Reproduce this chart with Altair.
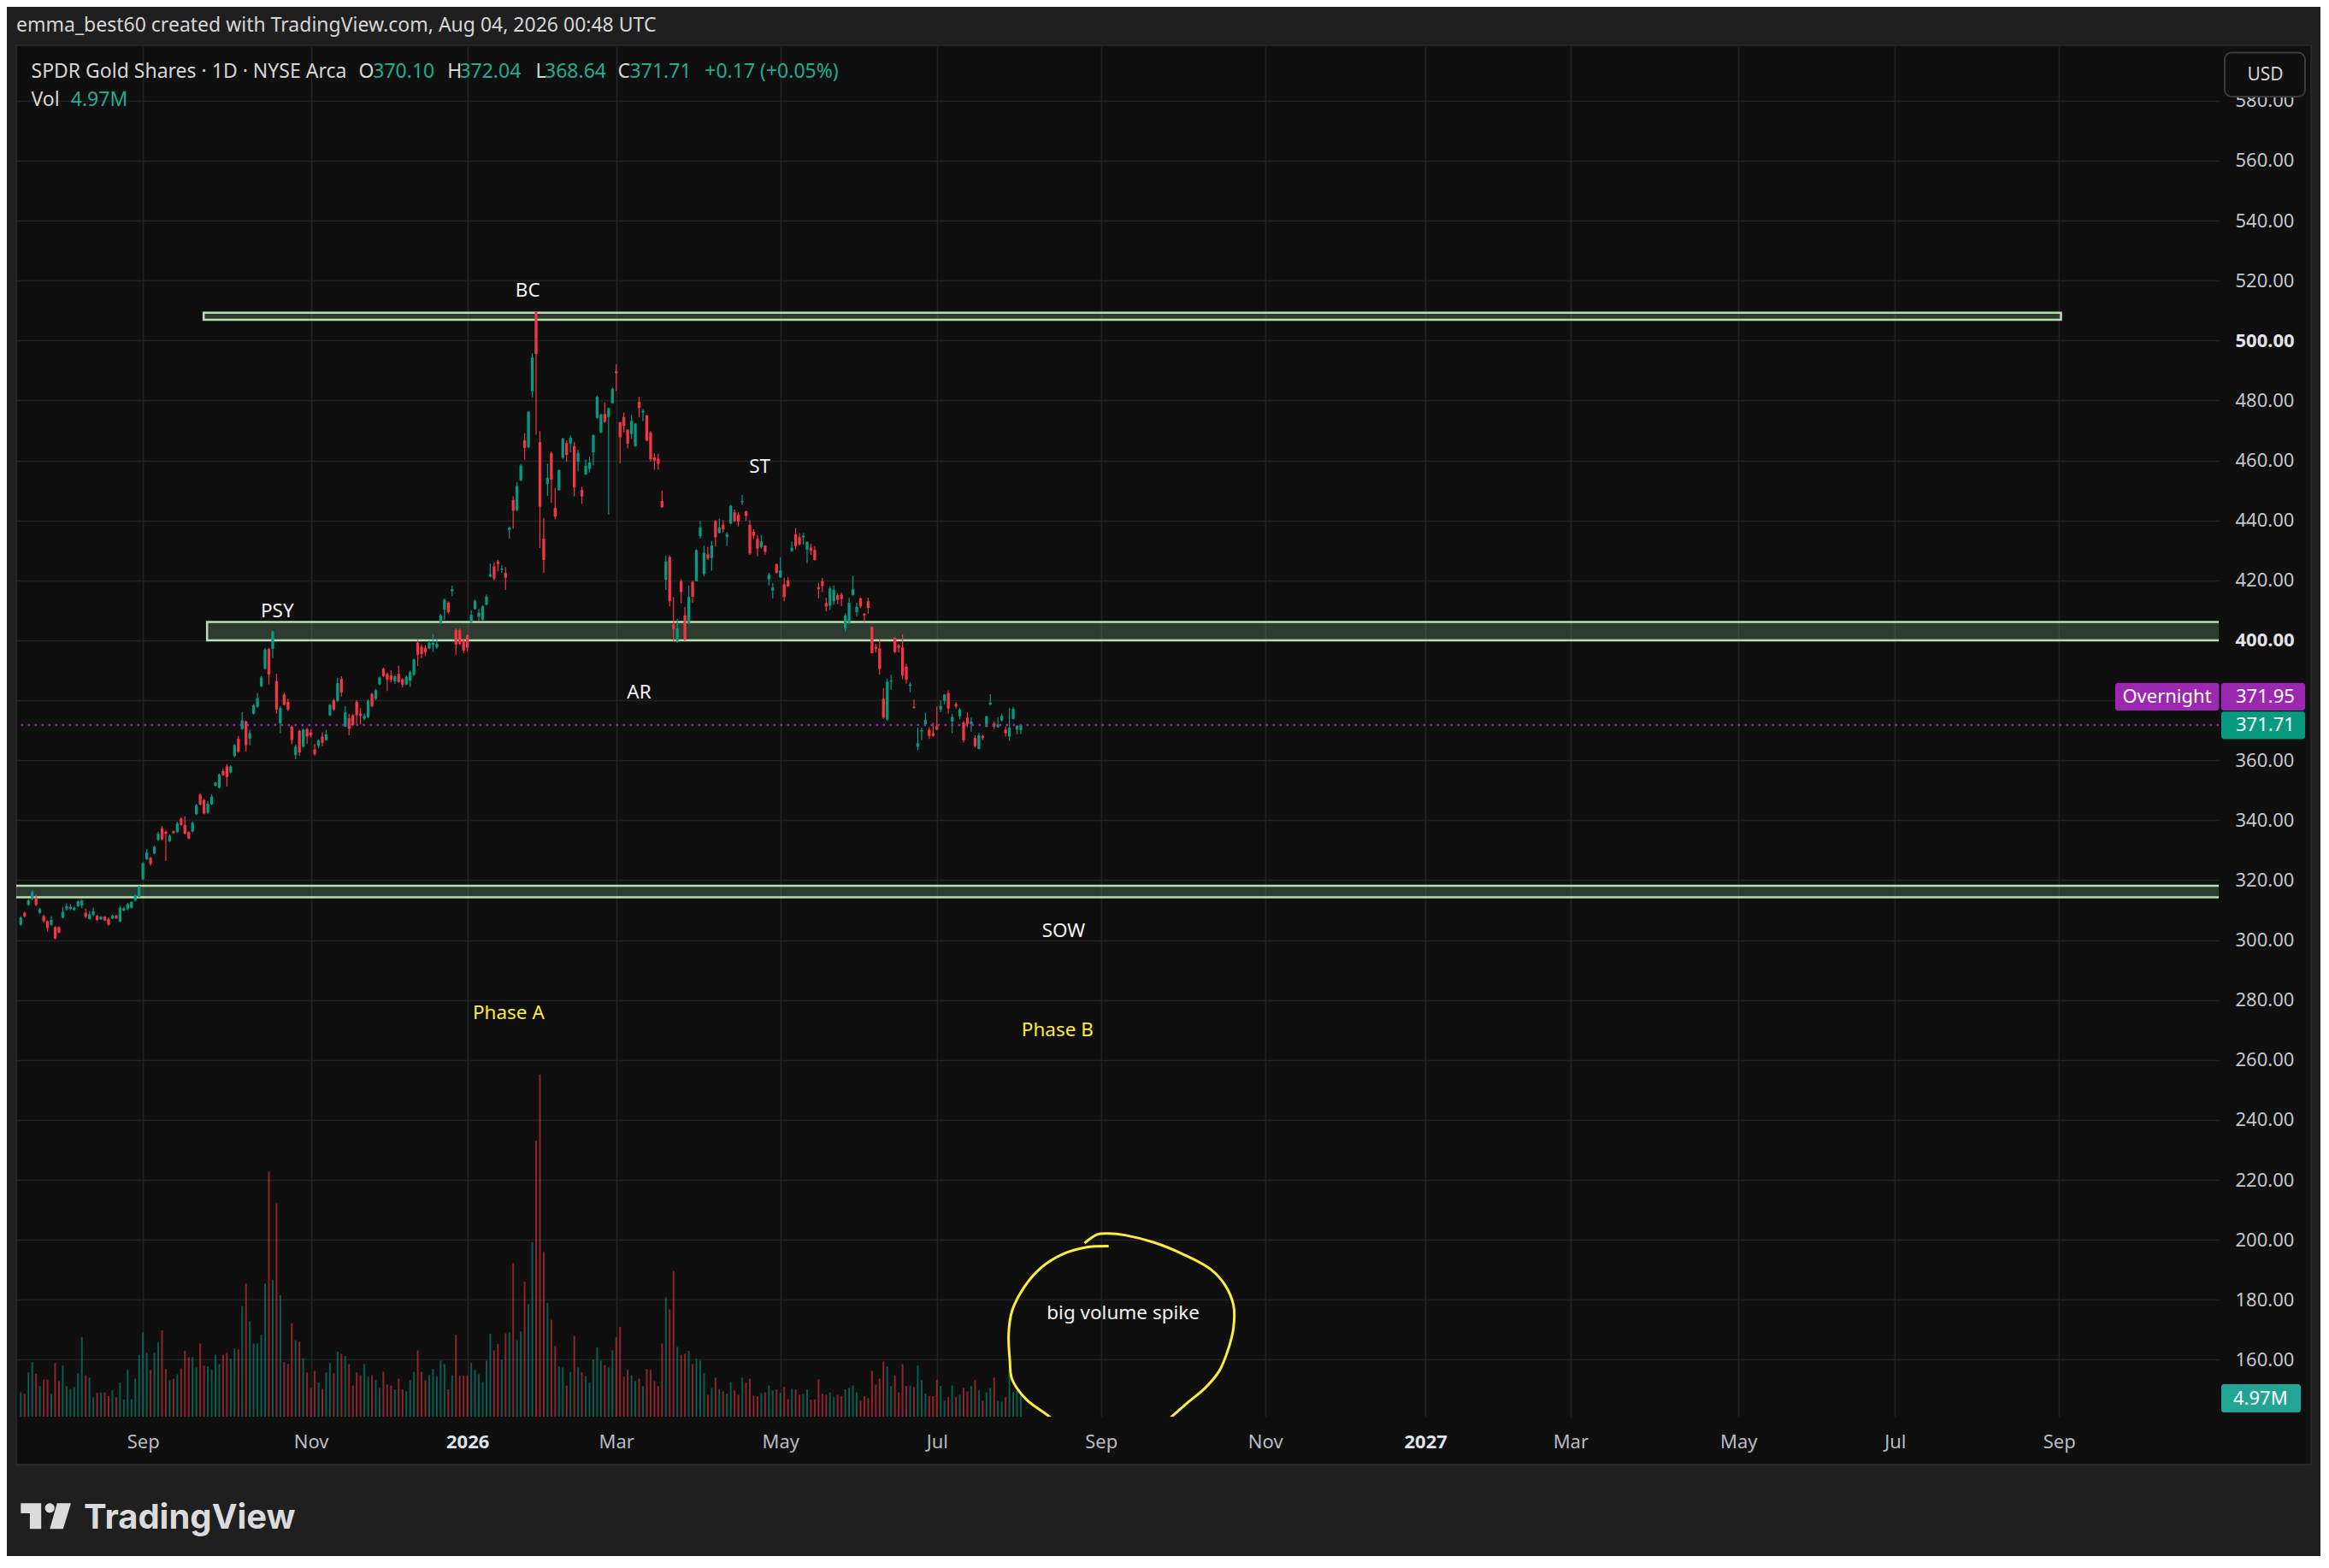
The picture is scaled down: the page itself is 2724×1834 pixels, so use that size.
import altair as alt
import pandas as pd

# ------------------------------------------------------------------ data
START = "2025-07-17"
END_CAL = "2027-12-31"
HOLIDAYS = ["2025-09-01", "2025-11-27", "2025-12-25", "2026-01-01", "2026-01-19",
            "2026-02-16", "2026-04-03", "2026-05-25", "2026-06-19", "2026-07-03",
            "2026-09-07", "2026-11-26", "2026-12-25", "2027-01-01", "2027-01-18",
            "2027-02-15", "2027-03-26", "2027-05-31", "2027-06-18", "2027-07-05",
            "2027-09-06"]

OPEN = [
    305.1, 309.1, 311.8, 313.7, 314.1, 309.1, 308.0, 306.3, 305.1, 304.3,
    304.3, 307.5, 310.3, 310.4, 310.0, 311.3, 311.5, 309.1, 307.0, 308.4,
    308.1, 306.9, 307.8, 307.0, 307.2, 308.2, 306.2, 309.8, 310.3, 310.8,
    313.2, 314.4, 320.3, 327.0, 327.4, 328.9, 333.4, 337.2, 336.2, 333.0,
    336.3, 336.0, 340.5, 338.4, 336.0, 336.2, 342.0, 348.5, 346.7, 342.5,
    345.3, 351.5, 350.8, 356.4, 357.9, 355.9, 361.4, 367.1, 370.4, 372.9,
    367.2, 375.5, 377.8, 384.7, 390.5, 397.1, 397.1, 386.4, 372.3, 381.9,
    379.5, 371.2, 361.7, 369.8, 364.5, 370.4, 369.3, 363.6, 364.8, 367.9,
    366.7, 375.0, 380.0, 379.8, 387.2, 371.2, 374.0, 375.0, 379.5, 375.6,
    373.9, 374.4, 382.1, 380.5, 385.3, 390.5, 388.8, 388.3, 386.3, 388.8,
    387.0, 385.3, 386.5, 388.5, 399.2, 397.8, 397.5, 397.3, 398.5, 397.6,
    405.9, 410.2, 412.6, 416.4, 403.5, 403.5, 400.0, 401.6, 406.1, 410.5,
    407.8, 406.9, 411.9, 421.3, 424.6, 426.3, 423.5, 422.5, 436.8, 446.8,
    443.4, 453.4, 466.7, 464.4, 483.1, 509.5, 466.1, 433.9, 452.2, 462.4,
    444.2, 450.1, 460.9, 465.8, 465.6, 464.8, 459.6, 450.1, 455.3, 457.2,
    462.7, 474.2, 469.4, 475.5, 474.5, 479.1, 489.8, 472.7, 474.5, 470.3,
    468.8, 464.8, 479.6, 476.0, 475.0, 469.3, 461.0, 460.6, 446.5, 420.2,
    427.8, 405.2, 399.9, 419.7, 408.3, 405.6, 419.5, 419.7, 434.7, 422.1,
    428.7, 427.5, 439.8, 435.8, 438.5, 434.4, 439.0, 442.7, 441.9, 446.1,
    443.0, 438.5, 436.2, 433.9, 431.1, 431.6, 420.3, 416.6, 425.4, 421.0,
    418.7, 420.0, 429.8, 435.4, 434.4, 434.4, 430.3, 430.9, 430.1, 417.8,
    419.7, 412.4, 411.6, 413.0, 415.1, 415.2, 404.0, 405.9, 415.1, 409.4,
    414.0, 408.8, 413.0, 404.4, 397.8, 397.3, 380.5, 373.6, 386.2, 400.9,
    398.3, 397.6, 391.2, 384.8, 377.8, 364.5, 369.6, 372.0, 370.2, 369.0,
    371.4, 376.9, 379.8, 382.4, 372.9, 378.8, 374.7, 372.6, 374.2, 372.0,
    367.4, 363.8, 368.1, 371.2, 378.6, 372.3, 371.0, 373.3, 370.2, 367.9,
    373.8, 370.2, 370.10]

HIGH = [
    308.0, 309.5, 313.6, 316.6, 315.1, 310.8, 308.5, 306.6, 308.0, 304.6,
    304.6, 311.0, 312.3, 312.0, 311.2, 313.2, 313.6, 310.5, 309.6, 310.8,
    308.4, 308.0, 308.0, 307.5, 308.5, 308.4, 311.4, 311.1, 312.4, 313.0,
    315.2, 318.2, 326.0, 330.4, 327.8, 331.5, 336.1, 338.0, 336.6, 335.2,
    336.6, 339.5, 341.0, 341.3, 336.3, 339.6, 345.4, 349.0, 347.0, 346.4,
    348.6, 352.8, 355.6, 357.3, 358.6, 358.3, 365.4, 368.0, 376.0, 373.3,
    370.2, 378.7, 382.4, 388.0, 397.4, 397.5, 403.2, 388.8, 378.0, 382.5,
    380.5, 371.6, 365.2, 370.2, 370.6, 370.8, 370.4, 365.5, 367.0, 369.3,
    370.2, 378.8, 380.4, 387.4, 388.0, 378.0, 375.5, 375.4, 380.0, 377.4,
    375.5, 380.3, 382.5, 383.8, 388.0, 390.9, 389.2, 390.0, 388.4, 391.5,
    387.4, 388.3, 389.9, 394.0, 400.2, 398.6, 398.3, 400.0, 402.0, 400.5,
    408.8, 414.0, 413.0, 418.2, 404.0, 404.0, 400.3, 402.0, 410.0, 413.6,
    410.4, 411.7, 415.2, 425.6, 425.9, 426.8, 424.9, 424.4, 438.0, 448.0,
    452.8, 458.8, 469.1, 476.5, 495.7, 509.8, 469.8, 440.8, 458.9, 463.0,
    450.8, 457.0, 467.6, 466.7, 468.3, 466.1, 463.6, 451.2, 460.4, 461.2,
    468.7, 481.6, 475.6, 479.3, 477.7, 484.3, 492.1, 472.9, 476.0, 470.4,
    475.1, 472.5, 481.2, 477.2, 475.2, 469.8, 462.4, 462.2, 449.8, 428.2,
    428.4, 414.4, 407.1, 420.4, 411.1, 418.3, 419.9, 430.4, 439.8, 431.6,
    431.1, 433.2, 440.1, 440.6, 440.1, 436.0, 445.2, 443.6, 442.7, 448.5,
    443.3, 440.1, 437.0, 435.1, 435.1, 431.7, 422.5, 419.1, 425.6, 427.7,
    420.9, 421.1, 433.0, 437.5, 435.8, 435.8, 433.0, 432.2, 431.4, 419.2,
    420.8, 414.2, 418.0, 418.3, 415.7, 415.9, 409.0, 414.2, 421.6, 412.5,
    414.2, 409.2, 414.2, 404.7, 398.8, 400.2, 384.0, 387.2, 388.5, 401.0,
    398.8, 402.0, 392.1, 386.1, 380.2, 370.9, 370.9, 375.8, 371.0, 372.6,
    377.9, 380.0, 382.1, 383.3, 375.4, 379.4, 377.4, 373.1, 376.0, 374.2,
    368.3, 369.1, 368.5, 374.8, 382.0, 372.9, 374.2, 375.5, 371.2, 377.4,
    377.7, 371.6, 372.04]

LOW = [
    304.8, 307.5, 311.4, 313.3, 311.3, 308.8, 305.8, 302.8, 304.8, 300.2,
    302.2, 307.2, 309.8, 310.0, 309.8, 311.0, 310.6, 307.3, 306.8, 308.0,
    306.4, 306.7, 306.3, 304.8, 307.0, 307.0, 306.0, 309.6, 310.0, 310.5,
    312.9, 314.1, 320.0, 326.7, 324.8, 328.6, 333.0, 333.3, 326.3, 332.7,
    335.4, 335.7, 338.0, 335.2, 333.6, 335.9, 341.7, 344.9, 341.9, 342.0,
    345.0, 351.2, 350.5, 354.7, 351.2, 355.6, 360.9, 362.5, 370.1, 362.8,
    365.0, 375.2, 377.5, 384.4, 390.2, 385.3, 394.0, 375.5, 369.0, 378.2,
    376.4, 365.3, 360.3, 361.5, 364.2, 365.5, 367.6, 361.4, 364.0, 364.7,
    366.4, 374.6, 376.5, 379.4, 381.2, 371.0, 368.3, 371.3, 372.2, 371.9,
    373.3, 374.0, 377.6, 380.0, 385.0, 387.7, 383.1, 385.9, 385.4, 385.8,
    384.2, 385.0, 384.5, 388.1, 391.4, 394.0, 394.7, 397.0, 396.1, 397.2,
    405.4, 406.9, 408.9, 414.7, 395.2, 398.4, 395.6, 396.2, 405.8, 410.2,
    406.6, 406.5, 411.6, 421.0, 420.0, 423.0, 422.5, 416.8, 434.0, 437.2,
    443.0, 453.0, 460.3, 464.0, 481.0, 468.6, 430.8, 422.5, 448.2, 445.8,
    440.3, 449.9, 460.5, 459.6, 462.7, 448.0, 456.3, 445.5, 455.1, 456.0,
    458.4, 473.9, 469.0, 472.5, 442.0, 479.0, 483.1, 459.0, 469.4, 464.1,
    467.2, 464.6, 474.4, 473.1, 466.4, 459.6, 456.9, 456.9, 444.2, 416.8,
    411.3, 399.5, 399.2, 412.4, 399.8, 405.5, 412.5, 419.6, 433.9, 421.3,
    426.8, 423.2, 431.3, 435.6, 436.0, 431.4, 438.7, 439.4, 437.9, 445.2,
    439.8, 428.5, 433.8, 428.0, 430.6, 428.6, 418.3, 414.0, 422.3, 420.8,
    413.0, 417.8, 429.5, 430.3, 431.6, 432.0, 425.7, 428.5, 426.6, 414.0,
    416.1, 409.7, 410.1, 411.8, 412.1, 411.4, 403.0, 405.4, 414.9, 408.0,
    410.8, 406.1, 408.9, 395.6, 395.9, 388.6, 373.8, 373.1, 383.4, 395.8,
    395.9, 387.0, 385.5, 382.6, 377.2, 363.3, 366.7, 371.5, 367.1, 367.8,
    370.0, 376.1, 378.6, 375.5, 369.0, 377.3, 373.6, 365.9, 371.0, 369.5,
    364.1, 363.6, 366.7, 371.0, 378.4, 370.4, 370.9, 372.9, 367.9, 366.4,
    373.6, 368.6, 368.64]

CLOSE = [
    307.5, 307.9, 313.2, 316.0, 311.8, 310.3, 306.3, 304.0, 306.7, 300.5,
    302.5, 309.4, 311.3, 311.1, 310.8, 312.9, 313.2, 307.8, 308.6, 309.6,
    306.7, 307.8, 306.5, 305.1, 308.2, 307.3, 310.8, 310.6, 312.0, 312.7,
    314.9, 317.9, 325.6, 329.2, 325.4, 331.1, 335.4, 333.6, 335.5, 334.8,
    335.7, 338.9, 338.4, 335.5, 333.9, 339.1, 345.0, 345.2, 342.2, 345.5,
    347.9, 352.5, 355.2, 355.0, 354.4, 357.9, 365.0, 362.8, 373.3, 365.0,
    369.0, 378.3, 380.7, 387.6, 396.9, 388.6, 403.0, 376.9, 377.4, 378.5,
    376.9, 366.7, 364.5, 362.6, 370.2, 367.9, 368.3, 362.0, 366.6, 365.8,
    368.6, 378.5, 376.9, 385.7, 382.6, 375.9, 370.5, 371.7, 375.0, 374.8,
    374.8, 379.9, 378.0, 383.3, 387.6, 388.1, 386.9, 386.9, 388.0, 386.1,
    385.2, 387.8, 389.4, 393.6, 395.2, 395.4, 396.0, 399.1, 399.2, 398.8,
    408.3, 413.5, 409.4, 417.0, 398.6, 398.8, 396.6, 397.5, 408.5, 413.2,
    409.2, 411.3, 414.5, 422.0, 420.6, 425.5, 423.9, 420.9, 437.6, 443.2,
    451.5, 458.3, 464.2, 476.2, 494.3, 495.5, 444.6, 426.8, 454.1, 453.6,
    441.3, 456.8, 467.2, 461.8, 467.5, 451.0, 462.5, 448.0, 458.2, 459.3,
    468.4, 481.2, 475.3, 472.9, 477.4, 483.9, 489.1, 467.7, 471.5, 465.6,
    473.2, 472.3, 477.5, 476.5, 466.6, 460.4, 459.9, 458.9, 444.4, 426.3,
    413.0, 403.7, 404.0, 416.1, 400.2, 414.5, 414.5, 430.1, 437.7, 429.2,
    427.3, 431.6, 434.4, 437.7, 437.0, 435.4, 444.9, 439.8, 439.6, 446.5,
    441.5, 429.0, 434.9, 430.6, 433.0, 429.5, 421.8, 417.6, 422.5, 423.3,
    414.4, 418.0, 430.9, 431.4, 432.0, 434.9, 432.8, 429.9, 426.8, 417.1,
    418.1, 411.3, 417.3, 416.8, 413.5, 413.8, 408.3, 412.5, 417.0, 411.1,
    411.3, 408.3, 410.8, 395.7, 397.2, 390.4, 374.2, 386.2, 386.6, 396.1,
    397.5, 388.3, 386.9, 385.3, 377.4, 365.7, 370.0, 373.4, 368.1, 368.1,
    370.2, 378.1, 381.9, 377.2, 374.4, 377.9, 376.9, 366.6, 372.1, 372.9,
    364.7, 368.3, 367.4, 374.6, 379.2, 371.2, 371.9, 374.8, 369.0, 370.9,
    377.1, 371.54, 371.71]

VOLUME_M = [
    5.0, 4.7, 9.1, 11.2, 8.8, 6.3, 7.6, 7.6, 4.7, 11.0,
    7.3, 10.5, 6.3, 5.7, 6.1, 8.9, 16.3, 8.5, 8.0, 4.0,
    4.9, 5.0, 5.0, 4.2, 5.4, 4.0, 7.0, 3.5, 9.6, 3.6,
    7.8, 12.7, 17.3, 13.1, 9.6, 13.1, 15.2, 17.7, 9.8, 7.5,
    7.8, 8.7, 9.9, 13.5, 12.2, 12.2, 10.1, 15.0, 10.5, 10.3,
    9.6, 12.7, 10.8, 12.7, 13.1, 11.9, 14.0, 13.8, 22.7, 27.3,
    19.6, 15.0, 15.0, 16.8, 27.3, 50.3, 28.0, 43.8, 24.9, 11.2,
    10.8, 19.2, 15.7, 15.4, 12.0, 9.1, 5.9, 9.4, 7.0, 5.7,
    9.1, 11.0, 8.9, 13.3, 12.9, 12.4, 10.8, 6.4, 9.1, 8.5,
    10.8, 8.2, 8.5, 7.5, 5.9, 9.2, 6.6, 6.4, 5.6, 7.8,
    5.6, 5.2, 7.5, 9.2, 13.6, 9.2, 7.5, 8.5, 9.8, 8.2,
    11.5, 10.8, 5.6, 8.5, 16.8, 8.4, 8.4, 8.5, 11.0, 9.6,
    8.7, 7.1, 11.5, 17.0, 13.6, 14.9, 11.7, 17.1, 17.3, 31.5,
    15.7, 17.5, 27.7, 23.1, 35.8, 56.6, 70.2, 33.8, 23.3, 19.9,
    14.5, 10.3, 10.1, 6.4, 9.2, 16.6, 10.1, 9.1, 8.4, 7.0,
    11.7, 14.2, 11.5, 10.6, 10.1, 13.6, 16.3, 18.4, 8.2, 9.6,
    8.5, 7.3, 7.8, 6.3, 9.8, 9.6, 7.3, 6.3, 15.0, 24.5,
    22.0, 29.9, 14.3, 12.7, 12.9, 13.5, 10.8, 11.9, 11.5, 8.9,
    4.5, 5.9, 8.0, 5.6, 5.2, 4.7, 7.1, 5.4, 4.5, 8.0,
    7.0, 7.8, 4.3, 4.2, 4.9, 5.0, 6.4, 5.4, 5.6, 4.9,
    6.1, 3.6, 5.7, 5.6, 4.5, 4.7, 5.6, 3.5, 3.5, 7.7,
    4.7, 4.5, 5.0, 4.0, 4.5, 4.2, 5.6, 5.9, 6.4, 5.0,
    3.3, 4.2, 3.8, 9.4, 6.6, 7.8, 11.3, 10.3, 6.3, 8.5,
    5.0, 10.8, 6.3, 6.4, 6.1, 10.5, 7.5, 4.7, 4.2, 4.2,
    7.5, 6.3, 3.3, 4.0, 6.4, 4.0, 4.5, 5.9, 5.2, 6.3,
    7.5, 5.4, 3.3, 5.0, 5.9, 8.0, 3.3, 3.1, 4.0, 9.8,
    5.0, 5.3, 4.97]

OVERNIGHT_PRICE = 371.95
Y_TICKS = list(range(160, 600, 20))

# drawings (bar index / price)
ZONE_J0 = [47.9, 48.8, -5.0]
ZONE_J1 = [534.5, 600.0, 600.0]
ZONE_LO = [506.9, 400.0, 314.3]
ZONE_HI = [509.3, 406.1, 318.1]

ANN_TEXT = ["BC", "ST", "PSY", "AR", "SOW", "Phase A", "Phase B", "big volume spike"]
ANN_J = [132.8, 193.6, 67.2, 162.0, 273.2, 127.8, 271.6, 288.8]
ANN_P = [516.7, 458.0, 409.6, 382.6, 303.0, 275.7, 269.8, 175.5]
ANN_KIND = ["w", "w", "w", "w", "w", "y", "y", "w"]

CIRC_J = [278.7, 282.0, 285.0, 289.5, 296.9, 304.3, 311.8, 315.5, 317.7, 317.7,
          316.2, 314.0, 310.3, 305.8, 301.4, 292.4, 279.0, 269.4, 263.4, 259.7,
          259.1, 258.8, 259.7, 262.7, 267.2, 273.1, 279.0, 285.0]
CIRC_P = [198.9, 201.8, 202.1, 201.5, 199.1, 195.3, 190.1, 184.9, 178.2, 170.6,
          163.0, 156.3, 150.6, 145.8, 140.9, 131.6, 131.0, 141.1, 146.8, 153.5,
          160.1, 168.6, 176.3, 183.9, 190.6, 195.3, 197.5, 197.9]

# ------------------------------------------------------------------ style
FONT = "Noto Sans"
GREEN = "#089981"
RED = "#f23645"
TEAL_TXT = "#22ab94"
LABEL_GREEN = "#22a595"
PURPLE = "#9c27b0"
YELLOW = "#ffeb3b"
LIGHT = "#d6d6d6"
FRAME = "#1f1f1f"
GRID = "#222222"

W, H = 2576, 1603
X_MIN, X_MAX = -0.07, 574.7

cal = pd.bdate_range(START, END_CAL, freq="C", holidays=HOLIDAYS)
n = len(CLOSE)

tick_j, tick_lab = [], []
for i in range(1, len(cal)):
    if i > X_MAX:
        break
    d = cal[i]
    if d.month != cal[i - 1].month and d.month % 2 == 1:
        tick_j.append(i)
        tick_lab.append(str(d.year) if d.month == 1 else d.strftime("%b"))
year_j = [j for j, lab in zip(tick_j, tick_lab) if lab.isdigit()]

df = pd.DataFrame({
    "j": list(range(n)),
    "date": [d.strftime("%Y-%m-%d") for d in cal[:n]],
    "o": OPEN, "h": HIGH, "l": LOW, "c": CLOSE, "v": VOLUME_M,
})
df["dir"] = ["up" if c >= o else "down" for o, c in zip(OPEN, CLOSE)]

xscale = alt.Scale(domain=[X_MIN, X_MAX], nice=False, zero=False)
yscale = alt.Scale(domain=[141.0, 598.2], nice=False, zero=False)
vscale = alt.Scale(domain=[0, 281.2], nice=False, zero=False)
cscale = alt.Scale(domain=["up", "down"], range=[GREEN, RED])

lab_expr = ("[" + ",".join("'%s'" % s for s in tick_lab) + "][indexof(["
            + ",".join(str(j) for j in tick_j) + "], datum.value)]")
year_test = "indexof([" + ",".join(str(j) for j in year_j) + "], datum.value) >= 0"
bold_test = "datum.value == 400 || datum.value == 500"

XAXIS = alt.Axis(values=tick_j, labelExpr=lab_expr, title=None, orient="bottom",
                 grid=True, gridColor=GRID, gridWidth=1.6, ticks=False, domain=False,
                 labelFont=FONT, labelFontSize=22, labelPadding=19,
                 labelColor={"condition": {"test": year_test, "value": "#dfe2e8"}, "value": "#b8bbc2"},
                 labelFontWeight={"condition": {"test": year_test, "value": "bold"}, "value": "normal"},
                 labelOverlap=False, labelFlush=False)
YAXIS = alt.Axis(values=Y_TICKS, format=".2f", title=None, orient="right",
                 grid=True, gridColor=GRID, gridWidth=1.6, ticks=False, domain=False,
                 labelFont=FONT, labelFontSize=22, labelAlign="left", labelPadding=19,
                 labelColor={"condition": {"test": bold_test, "value": "#e2e4ea"}, "value": "#c3c6cc"},
                 labelFontWeight={"condition": {"test": bold_test, "value": "bold"}, "value": "normal"},
                 labelOverlap=False, labelFlush=False)


def X(field):
    return alt.X(field, scale=xscale, axis=XAXIS)


def Y(field):
    return alt.Y(field, scale=yscale, axis=YAXIS)


def V(field):
    return alt.Y(field, scale=vscale, axis=None)


ONE = pd.DataFrame({"k": [0]})


def px_rect(x, x2, y, y2, **kw):
    return alt.Chart(ONE).mark_rect(**kw).encode(
        x=alt.value(x), x2=alt.value(x2), y=alt.value(y), y2=alt.value(y2))


def px_text(txt, x, y, **kw):
    base = dict(font=FONT, fontSize=23, align="left", baseline="middle", color=LIGHT)
    base.update(kw)
    return alt.Chart(pd.DataFrame({"t": [txt]})).mark_text(**base).encode(
        x=alt.value(x), y=alt.value(y), text="t:N")


def price_rect(lo, hi, x, x2, color):
    return alt.Chart(pd.DataFrame({"a": [hi], "b": [lo]})).mark_rect(
        color=color, cornerRadius=3).encode(
        x=alt.value(x), x2=alt.value(x2), y=Y("a:Q"), y2="b:Q")


def price_text(txt, p, x, **kw):
    base = dict(font=FONT, fontSize=22, align="left", baseline="middle", color="#ffffff")
    base.update(kw)
    return alt.Chart(pd.DataFrame({"t": [txt], "p": [p]})).mark_text(**base).encode(
        x=alt.value(x), y=Y("p:Q"), text="t:N")


# ------------------------------------------------------------------ volume pane
vol_bars = alt.Chart(df).mark_bar(size=2.0, opacity=0.55).encode(
    x=X("j:Q"), y=V("v:Q"),
    color=alt.Color("dir:N", scale=cscale, legend=None))
last_v = VOLUME_M[-1]
vol_mid = last_v - 1.2
vol_box = alt.Chart(pd.DataFrame({"a": [vol_mid + 2.9], "b": [vol_mid - 2.9]})).mark_rect(
    color=LABEL_GREEN if CLOSE[-1] >= OPEN[-1] else RED, cornerRadius=3).encode(
    x=alt.value(2579), x2=alt.value(2672), y=V("a:Q"), y2="b:Q")
vol_txt = alt.Chart(pd.DataFrame({"t": ["%.2fM" % last_v], "p": [vol_mid]})).mark_text(
    font=FONT, fontSize=22, align="left", baseline="middle", color="#ffffff").encode(
    x=alt.value(2593), y=V("p:Q"), text="t:N")
volume_group = alt.layer(vol_bars, vol_box, vol_txt)

# ------------------------------------------------------------------ price pane
frame = [
    px_rect(-19, 2705, -54, -1, color=FRAME),
    px_rect(-19, 0, -54, 1780, color=FRAME),
    px_rect(2684, 2705, -54, 1780, color=FRAME),
    px_rect(-19, 2705, 1659, 1780, color=FRAME),
    px_rect(0, 2684, -1, 1659, fillOpacity=0, stroke="#2c2c2c", strokeWidth=1.5),
]

zones = alt.Chart(pd.DataFrame({"j0": ZONE_J0, "j1": ZONE_J1, "lo": ZONE_LO, "hi": ZONE_HI})).mark_rect(
    clip=True, fill="#a5d6a7", fillOpacity=0.22, stroke="#b5e0b0", strokeWidth=2.5).encode(
    x=X("j0:Q"), x2="j1:Q", y=Y("lo:Q"), y2="hi:Q")

wicks = alt.Chart(df).mark_rule(strokeWidth=1.2).encode(
    x=X("j:Q"), y=Y("l:Q"), y2="h:Q",
    color=alt.Color("dir:N", scale=cscale, legend=None))
bodies = alt.Chart(df).mark_bar(size=3.3).encode(
    x=X("j:Q"), y=Y("o:Q"), y2="c:Q",
    color=alt.Color("dir:N", scale=cscale, legend=None))

price_line = alt.Chart(pd.DataFrame({"p": [CLOSE[-1]]})).mark_rule(
    color=PURPLE, strokeDash=[2.5, 5.5], strokeWidth=2.5).encode(y=Y("p:Q"))

ann_df = pd.DataFrame({"t": ANN_TEXT, "j": ANN_J, "p": ANN_P,
                       "col": ["#f2f2f2" if k == "w" else YELLOW for k in ANN_KIND]})
annotations = alt.Chart(ann_df).mark_text(font=FONT, fontSize=22.5).encode(
    x=X("j:Q"), y=Y("p:Q"), text="t:N", color=alt.Color("col:N", scale=None))

circle = alt.Chart(pd.DataFrame({"k": list(range(len(CIRC_J))), "j": CIRC_J, "p": CIRC_P})).mark_line(
    clip=True, interpolate="catmull-rom", color=YELLOW, strokeWidth=3).encode(
    x=X("j:Q"), y=Y("p:Q"), order="k:Q")

last_c = CLOSE[-1]
HALF = 4.6
ov_mid = last_c + 9.5
right_labels = [
    price_rect(ov_mid - HALF, ov_mid + HALF, 2455, 2576.5, PURPLE),
    price_rect(ov_mid - HALF, ov_mid + HALF, 2579, 2677, PURPLE),
    price_rect(last_c - HALF - 0.1, last_c + HALF - 0.1, 2579, 2677,
               GREEN if CLOSE[-1] >= OPEN[-1] else RED),
    price_text("Overnight", ov_mid, 2515.5, align="center"),
    price_text("%.2f" % OVERNIGHT_PRICE, ov_mid, 2596),
    price_text("%.2f" % last_c, last_c, 2596),
]

usd = [
    px_rect(2583, 2677, 7.5, 59, fill="#0f0f0f", stroke="#3a3a3a", strokeWidth=2, cornerRadius=8),
    px_text("USD", 2630.5, 33.5, align="center", fontSize=21),
]

chg = CLOSE[-1] - CLOSE[-2]
pct = chg / CLOSE[-2] * 100
header = [
    px_text("emma_best60 created with TradingView.com, Aug 04, 2026 00:48 UTC", 0, -24),
    px_text("SPDR Gold Shares \u00b7 1D \u00b7 NYSE Arca", 17.5, 30),
    px_text("O", 400.5, 30), px_text("%.2f" % OPEN[-1], 417.3, 30, color=TEAL_TXT),
    px_text("H", 504.3, 30), px_text("%.2f" % HIGH[-1], 518.4, 30, color=TEAL_TXT),
    px_text("L", 607.5, 30), px_text("%.2f" % LOW[-1], 618.0, 30, color=TEAL_TXT),
    px_text("C", 703.6, 30), px_text("%.2f" % CLOSE[-1], 717.6, 30, color=TEAL_TXT),
    px_text("%+.2f (%+.2f%%)" % (chg, pct), 805.3, 30, color=TEAL_TXT),
    px_text("Vol", 17.5, 63),
    px_text("%.2fM" % VOLUME_M[-1], 63.8, 63, color=TEAL_TXT),
]

LOGO_PATH = ("M-0.99,-0.5 L-0.18,-0.5 L-0.18,0.52 L-0.63,0.52 L-0.63,-0.1 L-0.99,-0.1 Z "
             "M-0.03,-0.31 A0.19,0.19 0 1,0 0.35,-0.31 A0.19,0.19 0 1,0 -0.03,-0.31 Z "
             "M0.45,-0.5 L1.0,-0.5 L0.69,0.52 L0.16,0.52 Z")
footer = [
    alt.Chart(ONE).mark_point(shape=LOGO_PATH, size=3481, filled=True, fill="#dbdbdb",
                              strokeWidth=0, opacity=1).encode(
        x=alt.value(34.5), y=alt.value(1719)),
    px_text("TradingView", 79, 1734, font="Inter", fontSize=40, fontWeight="bold",
            baseline="alphabetic", color="#dbdbdb"),
]

price_group = alt.layer(*frame, zones, wicks, bodies, price_line, annotations, circle,
                        *right_labels, *usd, *header, *footer)

chart = alt.layer(volume_group, price_group).resolve_scale(y="independent").properties(
    width=W, height=H,
    padding={"left": 11, "top": 46, "right": 119, "bottom": 163},
    autosize=alt.AutoSizeParams(type="none"),
    background="#0f0f0f",
).configure_view(stroke=None)

chart.save("out.html", embed_options={"renderer": "svg", "actions": False})
